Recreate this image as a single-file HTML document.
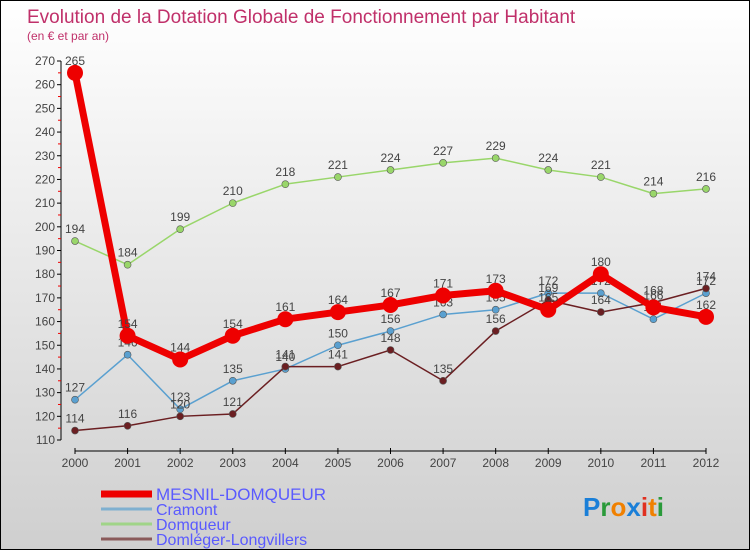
<!DOCTYPE html>
<html><head><meta charset="utf-8"><style>
body{margin:0}
#wrap{width:748px;height:548px;border:1px solid #000;background:linear-gradient(#ffffff,#cfcfcf);position:relative;font-family:"Liberation Sans",sans-serif;overflow:hidden}
</style></head><body>
<div id="wrap">
<svg id="chart" width="748" height="548"></svg>
</div>
<script>
const years=["2000","2001","2002","2003","2004","2005","2006","2007","2008","2009","2010","2011","2012"];
const mesnil=[265,154,144,154,161,164,167,171,173,165,180,166,162];
const cramont=[127,146,123,135,140,150,156,163,165,172,172,161,172];
const domqueur=[194,184,199,210,218,221,224,227,229,224,221,214,216];
const domleger=[114,116,120,121,141,141,148,135,156,169,164,168,174];
const yTicks=[110,120,130,140,150,160,170,180,190,200,210,220,230,240,250,260,270];
const NS="http://www.w3.org/2000/svg";
const svg=document.getElementById('chart');
const X=i=>74+i*(705-74)/12;
const Y=v=>439-(v-110)*(439-60)/160;
function el(t,a,p){const e=document.createElementNS(NS,t);for(const k in a)e.setAttribute(k,a[k]);(p||svg).appendChild(e);return e;}
let t=el('text',{x:26,y:22,fill:'#c0306a','font-size':19});t.textContent='Evolution de la Dotation Globale de Fonctionnement par Habitant';


t=el('text',{x:26,y:39,fill:'#c0306a','font-size':12});t.textContent='(en € et par an)';


// y axis
const ya=el('g',{});


el('line',{x1:60,y1:Y(270),x2:60,y2:Y(110),stroke:'#000'},ya);
yTicks.forEach(v=>{el('line',{x1:56,y1:Y(v),x2:60,y2:Y(v),stroke:'#000'},ya);
 if(v<270)el('line',{x1:57,y1:Y(v+5),x2:60,y2:Y(v+5),stroke:'#e00'},ya);
 const tx=el('text',{x:54,y:Y(v)+4,'text-anchor':'end','font-size':12,fill:'#444'},ya);tx.textContent=v;
 
 });
const xa=el('g',{});


el('line',{x1:X(0),y1:450,x2:X(12),y2:450,stroke:'#000'},xa);
years.forEach((y,i)=>{el('line',{x1:X(i),y1:447,x2:X(i),y2:453,stroke:'#000'},xa);
 const tx=el('text',{x:X(i),y:466,'text-anchor':'middle','font-size':12,fill:'#444'},xa);tx.textContent=y;
 
 });
function series(d,color,w,r,name){
 const g=el('g',{});
 
 
 el('polyline',{points:d.map((v,i)=>X(i)+','+Y(v)).join(' '),fill:'none',stroke:color,'stroke-width':w,'stroke-linejoin':'round'},g);
 d.forEach((v,i)=>{const c=el('circle',{cx:X(i),cy:Y(v),r:r,fill:color,stroke:'#555','stroke-width':r>5?0:0.6},g);
  
  
  const tx=el('text',{x:X(i),y:Y(v)-8,'text-anchor':'middle','font-size':12,fill:'#444'},g);tx.textContent=v;
  
  });
}
series(domqueur,'#99d66a',1.5,3.5,'domqueur-series');
series(cramont,'#5aa0d0',1.5,3.5,'cramont-series');
series(domleger,'#6b1f22',1.5,3.5,'domleger-series');
series(mesnil,'#ee0000',7,8,'mesnil-series');
// legend
const leg=[['MESNIL-DOMQUEUR','#ee0000',7],['Cramont','#7fb0d0',3],['Domqueur','#a0d488',3],['Domléger-Longvillers','#8a5a5a',3]];
leg.forEach((l,i)=>{const g=el('g',{});
 
 
 const y=493+i*15;
 el('line',{x1:100,y1:y,x2:151,y2:y,stroke:l[1],'stroke-width':l[2]},g);
 const tx=el('text',{x:155,y:y+6,'font-size':i==0?17:16,fill:'#5a5aff'},g);tx.textContent=l[0];});
const lg=el('text',{x:582,y:515,'font-size':26,'font-weight':'bold'});


[['P','#1a7fd8'],['r','#2a9a3a'],['o','#f08000'],['x','#1a7fd8'],['i','#e03020'],['t','#f08000'],['i','#2a9a3a']].forEach(c=>{const s=el('tspan',{fill:c[1]},lg);s.textContent=c[0];});
</script>
</body></html>
